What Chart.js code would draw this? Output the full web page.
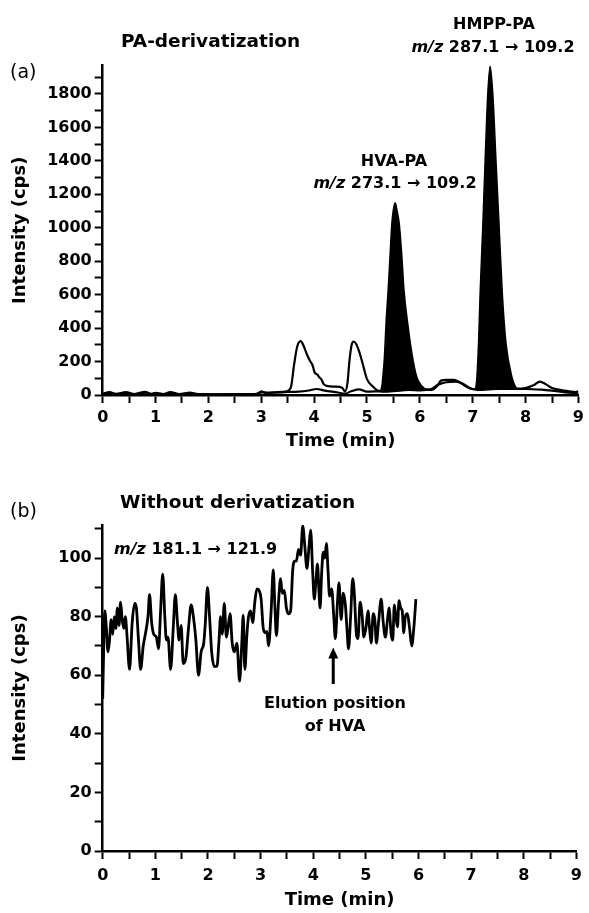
<!DOCTYPE html>
<html>
<head>
<meta charset="utf-8">
<script src="https://cdn.jsdelivr.net/npm/chart.js@4.4.0/dist/chart.umd.min.js"></script>
<style>
  html, body { margin: 0; padding: 0; background: #fff; }
  #wrap { position: relative; width: 589px; height: 913px; }
  .panel { position: absolute; left: 0; width: 589px; }
  #panelA { top: 0; height: 460px; }
  #panelB { top: 460px; height: 453px; }
</style>
</head>
<body>
<div id="wrap">
  <div class="panel" id="panelA"><canvas id="chartA"></canvas></div>
  <div class="panel" id="panelB"><canvas id="chartB"></canvas></div>
</div>
<script>
// ---- panel (a): PA-derivatization ----
const xTicksMin = [0, 1, 2, 3, 4, 5, 6, 7, 8, 9];

// outline trace with the two unfilled peaks
const timeA1 = [0, 0.13, 0.25, 0.44, 0.6, 0.8, 0.92, 1.0, 1.15, 1.28, 1.45, 1.65, 1.8, 2.2, 2.6, 2.92, 3.0, 3.1, 3.3, 3.48,
  3.56, 3.62, 3.68, 3.745, 3.8, 3.86, 3.92, 3.97, 4.01, 4.06, 4.1, 4.14, 4.18, 4.25, 4.4, 4.53, 4.58, 4.63, 4.67, 4.71,
  4.75, 4.8, 4.86, 4.92, 5.0, 5.1, 5.22, 5.4, 5.7, 5.95, 6.1, 6.22, 6.33, 6.4, 6.5, 6.62, 6.72, 6.85, 7.0, 7.2,
  7.6, 7.8, 8.0, 8.15, 8.27, 8.38, 8.5, 8.7, 8.95, 9.0];
const intA1 = [8, 18, 7, 17, 6, 19, 7, 13, 6, 17, 5, 14, 5, 4, 5, 7, 22, 12, 18, 22,
  45, 180, 290, 322, 295, 245, 205, 178, 135, 122, 105, 92, 65, 54, 50, 44, 22, 70, 210, 300,
  320, 302, 252, 185, 95, 54, 25, 20, 30, 42, 36, 30, 55, 86, 90, 90, 82, 55, 36, 38,
  40, 38, 42, 58, 80, 65, 42, 28, 18, 22];

// second, lower trace
const timeA2 = [0, 0.5, 1.0, 1.5, 2.0, 2.5, 2.9, 3.0, 3.2, 3.5, 3.7, 3.9, 4.05, 4.2, 4.45, 4.58, 4.7, 4.85, 5.0, 5.2,
  5.5, 5.8, 6.0, 6.2, 6.35, 6.5, 6.68, 6.8, 6.95, 7.1, 7.5, 8.0, 8.3, 8.5, 8.75, 9.0];
const intA2 = [5, 6, 4, 6, 4, 5, 6, 16, 14, 18, 20, 27, 36, 26, 15, 8, 22, 34, 20, 22,
  26, 30, 28, 34, 62, 76, 80, 70, 40, 30, 36, 36, 32, 26, 16, 10];

// HVA-PA peak (filled)
const timeHVA = [5.26, 5.28, 5.3, 5.33, 5.36, 5.4, 5.435, 5.47, 5.5, 5.535, 5.57, 5.61, 5.66, 5.7, 5.77, 5.86, 5.94, 6.02, 6.08];
const intHVA = [32, 50, 109, 229, 428, 627, 826, 1025, 1110, 1150, 1100, 1025, 826, 627, 428, 229, 109, 60, 42];

// HMPP-PA peak (filled)
const timeHMPP = [7.05, 7.06, 7.08, 7.11, 7.14, 7.19, 7.235, 7.285, 7.33, 7.38, 7.44, 7.5, 7.56, 7.63, 7.74, 7.83, 7.86];
const intHMPP = [34, 45, 110, 309, 607, 1005, 1403, 1801, 1965, 1801, 1403, 1005, 607, 309, 110, 40, 36];

// ---- panel (b): without derivatization ----
const timeB = [0, 0.02, 0.04, 0.07, 0.1, 0.13, 0.16, 0.19, 0.22, 0.25, 0.28, 0.31, 0.34, 0.37, 0.4, 0.43, 0.46, 0.51, 0.56, 0.61,
  0.64, 0.68, 0.72, 0.77, 0.82, 0.86, 0.89, 0.93, 0.97, 1.02, 1.06, 1.1, 1.14, 1.18, 1.21, 1.24, 1.29, 1.34, 1.38, 1.42,
  1.45, 1.49, 1.53, 1.58, 1.63, 1.68, 1.73, 1.77, 1.82, 1.87, 1.92, 1.95, 1.99, 2.03, 2.07, 2.12, 2.17, 2.21, 2.24, 2.27,
  2.31, 2.35, 2.38, 2.42, 2.46, 2.5, 2.55, 2.6, 2.64, 2.67, 2.7, 2.74, 2.77, 2.81, 2.85, 2.89, 2.93, 2.97, 3.01, 3.05,
  3.09, 3.12, 3.15, 3.2, 3.24, 3.27, 3.3, 3.34, 3.38, 3.41, 3.45, 3.49, 3.53, 3.57, 3.61, 3.65, 3.68, 3.72, 3.76, 3.8,
  3.84, 3.88, 3.92, 3.95, 3.99, 4.02, 4.05, 4.08, 4.11, 4.13, 4.16, 4.19, 4.22, 4.25, 4.28, 4.31, 4.35, 4.39, 4.42, 4.46,
  4.49, 4.53, 4.57, 4.61, 4.64, 4.67, 4.71, 4.75, 4.78, 4.82, 4.85, 4.89, 4.93, 4.96, 5.0, 5.04, 5.07, 5.1, 5.14, 5.17,
  5.2, 5.24, 5.29, 5.33, 5.37, 5.41, 5.44, 5.48, 5.51, 5.54, 5.57, 5.6, 5.63, 5.66, 5.69, 5.72, 5.75, 5.79, 5.83, 5.87,
  5.91, 5.95];
const intB = [52, 70, 82, 76, 68, 72, 79, 74, 80, 76, 83, 77, 85, 79, 76, 80, 74, 62, 78, 84.5,
  83, 72, 62, 70, 75, 80, 87.5, 78, 74, 73, 69, 82, 94.5, 80, 72, 73, 62, 76, 87.5, 78,
  72, 77, 64, 66, 76, 84, 79, 72, 60, 68, 71, 78, 90, 80, 68, 63, 63, 72, 80, 74,
  84.5, 73, 76, 81, 71, 68, 71, 58, 70, 80.5, 62, 74, 80, 82, 78, 85, 89.5, 89, 86, 76,
  74.5, 75, 70, 82, 96, 84, 73.5, 85, 93, 88, 89, 83, 81, 82, 96, 99, 99, 103, 101, 111,
  104, 96.5, 104, 109.5, 95, 86, 92, 98, 88, 83, 95, 102, 100, 105, 96, 87, 89.5, 80, 72.5, 85,
  91.5, 79, 88, 84, 76, 69, 80, 93, 88, 74, 72.5, 85, 80, 73, 76, 82, 76, 71, 81, 79,
  71, 78, 86, 78, 73, 79, 83, 74, 72, 84, 80, 76.5, 85.5, 83, 82, 74.5, 80, 81, 76, 70,
  76, 86];

// where the arrow in (b) points (time, from, to)
const arrowB = { t: 4.38, from: 57, to: 69.5 };

const FONT = "'DejaVu Sans', sans-serif";
const BOLD16 = "bold 16px " + FONT;
const ITAL16 = "italic bold 16px " + FONT;
const TITLE = "bold 18.5px " + FONT;
const PLAIN = "19px " + FONT;

const textsA = [
  { parts: [["PA-derivatization", TITLE]], x: 121, y: 42, align: "left" },
  { parts: [["(a)", PLAIN]], x: 10, y: 73, align: "left" },
  { parts: [["HMPP-PA", BOLD16]], x: 494, y: 25, align: "center" },
  { parts: [["m/z", ITAL16], [" 287.1 \u2192 109.2", BOLD16]], x: 493, y: 48, align: "center" },
  { parts: [["HVA-PA", BOLD16]], x: 394, y: 162, align: "center" },
  { parts: [["m/z", ITAL16], [" 273.1 \u2192 109.2", BOLD16]], x: 395, y: 184, align: "center" }
];
const textsB = [
  { parts: [["(b)", PLAIN]], x: 10, y: 52, align: "left" },
  { parts: [["Without derivatization", TITLE]], x: 120, y: 43, align: "left" },
  { parts: [["m/z", ITAL16], [" 181.1 \u2192 121.9", BOLD16]], x: 114, y: 90, align: "left" },
  { parts: [["Elution position", BOLD16]], x: 335, y: 244, align: "center" },
  { parts: [["of HVA", BOLD16]], x: 335, y: 267, align: "center" }
];

function toPoints(xs, ys) {
  return xs.map((x, i) => ({ x: x, y: ys[i] }));
}

function drawRich(ctx, item) {
  let total = 0;
  item.parts.forEach(p => { ctx.font = p[1]; total += ctx.measureText(p[0]).width; });
  let cx = item.align === "center" ? item.x - total / 2 : item.x;
  ctx.textAlign = "left";
  ctx.textBaseline = "middle";
  ctx.fillStyle = "#000";
  item.parts.forEach(p => {
    ctx.font = p[1];
    ctx.fillText(p[0], cx, item.y);
    cx += ctx.measureText(p[0]).width;
  });
}

const annotate = {
  id: "annotate",
  afterDraw(chart, args, opts) {
    const ctx = chart.ctx;
    ctx.save();
    (opts.texts || []).forEach(t => drawRich(ctx, t));
    if (opts.arrow) {
      const a = opts.arrow;
      const px = chart.scales.x.getPixelForValue(a.t);
      const y0 = chart.scales.y.getPixelForValue(a.from);
      const y1 = chart.scales.y.getPixelForValue(a.to);
      ctx.strokeStyle = "#000";
      ctx.lineWidth = 3;
      ctx.beginPath();
      ctx.moveTo(px, y0);
      ctx.lineTo(px, y1 + 8);
      ctx.stroke();
      ctx.fillStyle = "#000";
      ctx.beginPath();
      ctx.moveTo(px, y1);
      ctx.lineTo(px - 5, y1 + 11);
      ctx.lineTo(px + 5, y1 + 11);
      ctx.closePath();
      ctx.fill();
    }
    ctx.restore();
  }
};

Chart.defaults.font.family = FONT;
Chart.defaults.color = "#000";

function xAxis(height, labelPad, titlePad) {
  return {
    type: "linear",
    min: 0,
    max: 9,
    ticks: {
      stepSize: 0.5,
      autoSkip: false,
      maxRotation: 0,
      padding: labelPad,
      font: { size: 16, weight: "bold" },
      callback: v => (xTicksMin.includes(v) ? String(v) : "")
    },
    grid: { display: true, drawOnChartArea: false, drawTicks: true, tickLength: 8, tickWidth: 2, tickColor: "#000" },
    border: { display: true, color: "#000", width: 2.5 },
    title: { display: true, text: "Time (min)", font: { size: 18, weight: "bold" }, padding: { top: 0, bottom: titlePad } },
    afterFit: s => { s.height = height; }
  };
}

function yAxis(max, step, labelStep) {
  return {
    min: 0,
    max: max,
    ticks: {
      stepSize: step,
      includeBounds: false,
      autoSkip: false,
      padding: 3,
      font: { size: 16, weight: "bold" },
      callback: v => (v % labelStep === 0 ? String(v) : "")
    },
    grid: { display: true, drawOnChartArea: false, drawTicks: true, tickLength: 8, tickWidth: 2, tickColor: "#000" },
    border: { display: true, color: "#000", width: 2.5 },
    title: { display: true, text: "Intensity (cps)", font: { size: 18, weight: "bold" }, padding: { top: 10, bottom: 0 } },
    afterFit: s => { s.width = 102.7; }
  };
}

const lineStyle = { borderColor: "#000", pointRadius: 0, cubicInterpolationMode: "monotone", fill: false };

new Chart(document.getElementById("chartA"), {
  type: "line",
  data: {
    datasets: [
      Object.assign({ label: "HMPP-PA", data: toPoints(timeHMPP, intHMPP), borderWidth: 1.5, backgroundColor: "#000", order: 0 }, lineStyle, { fill: { value: 32 } }),
      Object.assign({ label: "HVA-PA", data: toPoints(timeHVA, intHVA), borderWidth: 1.5, backgroundColor: "#000", order: 0 }, lineStyle, { fill: { value: 30 } }),
      Object.assign({ label: "trace 1", data: toPoints(timeA1, intA1), borderWidth: 2.2, order: 1 }, lineStyle),
      Object.assign({ label: "trace 2", data: toPoints(timeA2, intA2), borderWidth: 2.2, order: 1 }, lineStyle)
    ]
  },
  options: {
    responsive: true,
    maintainAspectRatio: false,
    animation: false,
    layout: { padding: { left: 0, top: 65.5, right: 6.3, bottom: 0 } },
    scales: { x: xAxis(65, 5, 8), y: yAxis(1970, 100, 200) },
    plugins: { legend: { display: false }, tooltip: { enabled: false }, annotate: { texts: textsA } }
  },
  plugins: [annotate]
});

new Chart(document.getElementById("chartB"), {
  type: "line",
  data: {
    datasets: [
      Object.assign({ label: "m/z 181.1 > 121.9", data: toPoints(timeB, intB), borderWidth: 2.8 }, lineStyle)
    ]
  },
  options: {
    responsive: true,
    maintainAspectRatio: false,
    animation: false,
    layout: { padding: { left: 0, top: 65, right: 6.3, bottom: 0 } },
    scales: { x: xAxis(62, 7, 2), y: yAxis(111.3, 10, 20) },
    plugins: { legend: { display: false }, tooltip: { enabled: false }, annotate: { texts: textsB, arrow: arrowB } }
  },
  plugins: [annotate]
});
</script>
</body>
</html>
